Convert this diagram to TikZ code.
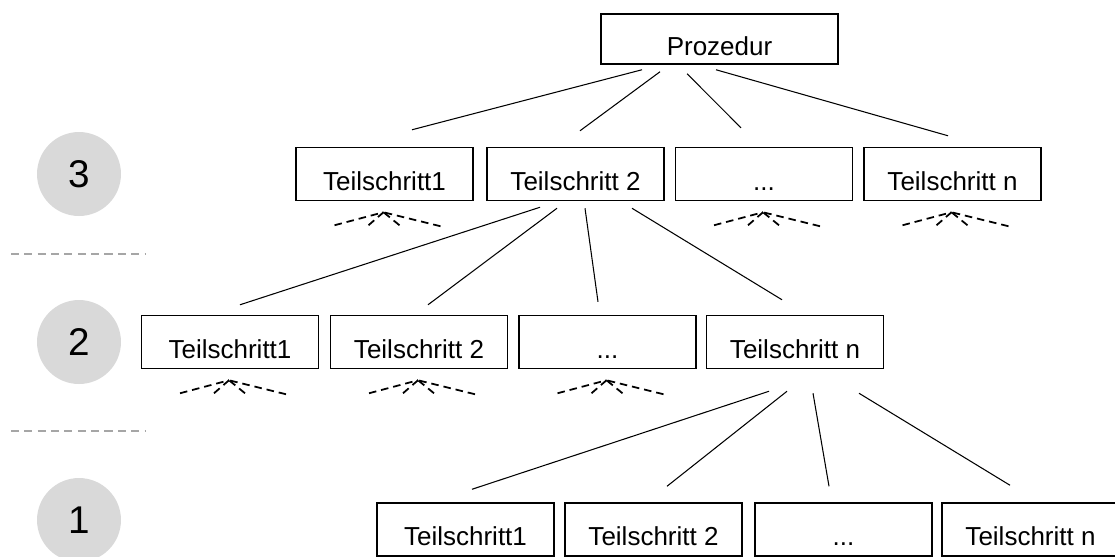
\documentclass[tikz,border=0pt]{standalone}
\usepackage{fontspec}
\setmainfont{Liberation Sans}
\usepackage{xcolor}
\usepackage{tikz}
\usetikzlibrary{calc,positioning}
\definecolor{lvlgray}{HTML}{D9D9D9}
\definecolor{sepgray}{HTML}{A6A6A6}
\newcommand{\dreipkt}{...}
\tikzset{
  stepbox/.style={draw, line width=0.85pt, minimum width=3.54cm, minimum height=1.06cm, inner ysep=0pt, text height=0.74cm, text depth=0.1cm, font=\fontsize{14.8pt}{17pt}\selectfont},
  lvl_c/.style={circle, fill=lvlgray, minimum size=1.68cm, inner sep=0pt, font=\fontsize{22pt}{26pt}\selectfont},
  conn/.style={line width=0.6pt},
  fan_l/.style={line width=1pt, dash pattern=on 4.3pt off 2.8pt},
  sep_l/.style={sepgray, line width=0.9pt, dash pattern=on 4.6pt off 3pt}
}
\begin{document}
\begin{tikzpicture}[x=0.02cm,y=-0.02cm]
\useasboundingbox (0,0) rectangle (1115,556);
% Ebenen
\node[lvl_c] (c3) at (79,174) {3};
\node[lvl_c] (c2) at (79,342) {2};
\node[lvl_c] (c1) at (79,520) {1};
\coordinate (s1a) at (11,254); \coordinate (s1b) at (145,254);
\coordinate (s2a) at (11,431); \coordinate (s2b) at (145,431);
\draw[sep_l] (s1a) -- (s1b);
\draw[sep_l] (s2a) -- (s2b);
% Kaesten
\node[stepbox, minimum width=4.74cm, minimum height=1cm] (proz) at (719.5,39) {Prozedur};
\foreach \n/\x/\t in {t3a/384.5/Teilschritt1, t3b/575.5/Teilschritt 2, t3c/764/\dreipkt, t3d/952.5/Teilschritt n}
  \node[stepbox] (\n) at (\x,174) {\t};
\foreach \n/\x/\t in {t2a/230/Teilschritt1, t2b/419/Teilschritt 2, t2c/607.5/\dreipkt, t2d/795/Teilschritt n}
  \node[stepbox] (\n) at (\x,342) {\t};
\foreach \n/\x/\t in {t1a/465.5/Teilschritt1, t1b/653.5/Teilschritt 2, t1c/843.5/\dreipkt, t1d/1030.5/Teilschritt n}
  \node[stepbox] (\n) at (\x,529.5) {\t};
% Verbindungen
\foreach \c/\sx/\sy/\ex/\ey in {t3a/-77.5/5/27.5/-17, t3b/-59.5/7/4.5/-16, t3c/-32.5/9/-23/-19, t3d/-3.5/5/-4.5/-11}
  \draw[conn] ($(proz.south)+(\sx,\sy)$) -- ($(\c.north)+(\ex,\ey)$);
\foreach \c/\sx/\sy/\ex/\ey in {t2a/-35.5/6/10/-10, t2b/-18.5/7/9/-10, t2c/9.5/7/-9.5/-13, t2d/56.5/7/-13/-15}
  \draw[conn] ($(t3b.south)+(\sx,\sy)$) -- ($(\c.north)+(\ex,\ey)$);
\foreach \c/\sx/\sy/\ex/\ey in {t1a/-26/22/6.5/-13, t1b/-8/22/13.5/-16, t1c/18/24/-14.5/-16, t1d/64/24/-20.5/-17}
  \draw[conn] ($(t2d.south)+(\sx,\sy)$) -- ($(\c.north)+(\ex,\ey)$);
% angedeutete Unterschritte
\foreach \b in {t3a, t3c, t3d, t2a, t2b, t2c}{
  \coordinate (\b_f) at ($(\b.south)+(-1,11)$);
  \foreach \dx/\dy in {-49/13, -15/13, 16/13, 57/14}
    \draw[fan_l] ($(\b_f)+(\dx,\dy)$) -- (\b_f);
}
\end{tikzpicture}
\end{document}
